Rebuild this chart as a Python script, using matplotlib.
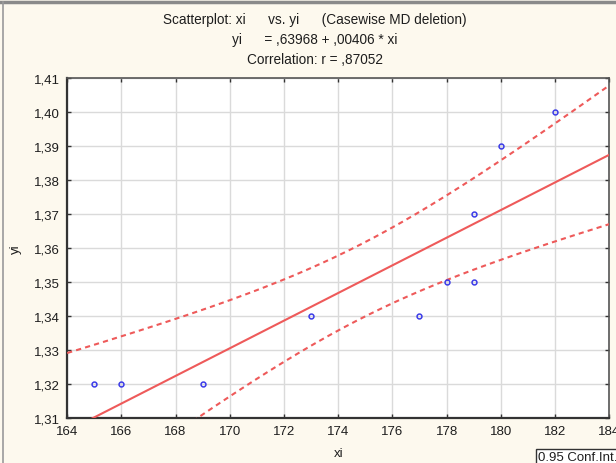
"""Statistica-style scatterplot of yi vs xi with regression line and 95% bands."""

import matplotlib
matplotlib.use("Agg")
import matplotlib.pyplot as plt
import numpy as np
from matplotlib.lines import Line2D
from matplotlib.ticker import FuncFormatter

plt.rcParams["font.family"] = ["Liberation Sans", "DejaVu Sans"]

# ── Data ──────────────────────────────────────────────────────────────────────
xi = [165, 166, 169, 173, 177, 178, 179, 179, 180, 182]
yi = [1.32, 1.32, 1.32, 1.34, 1.34, 1.35, 1.35, 1.37, 1.39, 1.40]

x_ticks = [164, 166, 168, 170, 172, 174, 176, 178, 180, 182, 184]
y_ticks = [1.31, 1.32, 1.33, 1.34, 1.35, 1.36, 1.37, 1.38, 1.39, 1.40, 1.41]

title_lines = [
    "Scatterplot: xi      vs. yi      (Casewise MD deletion)",
    "yi      = ,63968 + ,00406 * xi",
    "Correlation: r = ,87052",
]
t_crit = 2.306  # t(0.975, df=8)

# ── Fit ───────────────────────────────────────────────────────────────────────
x = np.asarray(xi, float)
y = np.asarray(yi, float)
slope, intercept = np.polyfit(x, y, 1)
resid = y - (intercept + slope * x)
s = np.sqrt(np.sum(resid ** 2) / (len(x) - 2))
sxx = np.sum((x - x.mean()) ** 2)
xs = np.linspace(x_ticks[0], x_ticks[-1], 200)
fit = intercept + slope * xs
half = t_crit * s * np.sqrt(1 / len(x) + (xs - x.mean()) ** 2 / sxx)

# ── Figure ────────────────────────────────────────────────────────────────────
fs = 9.5
txt = "#1E1E1E"
fig = plt.figure(figsize=(6.16, 4.64), dpi=100, facecolor="#FDF9EE")
ax = fig.add_axes([0.109, 0.097, 0.880, 0.733])
ax.set_facecolor("white")

ax.plot(xs, fit, color="#EE5A5A", lw=1.5, zorder=3)
ax.plot(xs, fit + half, color="#EE5A5A", lw=1.5, dashes=(2.5, 2), zorder=3)
ax.plot(xs, fit - half, color="#EE5A5A", lw=1.5, dashes=(2.5, 2), zorder=3)
ax.plot(xi, yi, "o", ms=3.5, mfc="none", mec="#3B3BE8", mew=1.1, zorder=4)

ax.set_xlim(x_ticks[0], x_ticks[-1])
ax.set_ylim(y_ticks[0], y_ticks[-1])
ax.set_xticks(x_ticks)
ax.set_yticks(y_ticks)
ax.yaxis.set_major_formatter(FuncFormatter(lambda v, _: f"{v:.2f}".replace(".", ",")))
ax.grid(True, color="#DADADA", lw=1)
ax.set_axisbelow(True)
ax.tick_params(direction="in", length=3, width=1, color="#333333",
               top=True, right=True, labelsize=fs, labelcolor=txt)
ax.tick_params(axis="y", pad=5)
ax.tick_params(axis="x", pad=5)
for side in ["left", "bottom"]:
    ax.spines[side].set_linewidth(1.6)
    ax.spines[side].set_color("#333333")
for side in ["top", "right"]:
    ax.spines[side].set_linewidth(1.2)
    ax.spines[side].set_color("#555555")

ax.set_xlabel("xi", fontsize=fs, color=txt, labelpad=7)
ax.set_ylabel("yi", fontsize=fs, color=txt, labelpad=9)

for i, line in enumerate(title_lines):
    fig.text(315 / 616, 1 - (20 + 20 * i) / 464, line, ha="center", va="center",
             fontsize=9.8, color=txt)

fig.text(538 / 616, 1 - 458 / 464, "0.95 Conf.Int.", ha="left", va="center",
         fontsize=fs, color=txt,
         bbox={"boxstyle": "square,pad=0.15", "facecolor": "white",
               "edgecolor": "#333333", "linewidth": 1})

# page borders
fig.add_artist(Line2D([0, 1], [1 - 3 / 464] * 2, color="#8A8A8A", lw=2.5,
                      transform=fig.transFigure))
fig.add_artist(Line2D([3 / 616] * 2, [0, 1 - 3 / 464], color="#9A9A9A", lw=1.2,
                      transform=fig.transFigure))

fig.savefig("out.png", dpi=100, facecolor=fig.get_facecolor())
